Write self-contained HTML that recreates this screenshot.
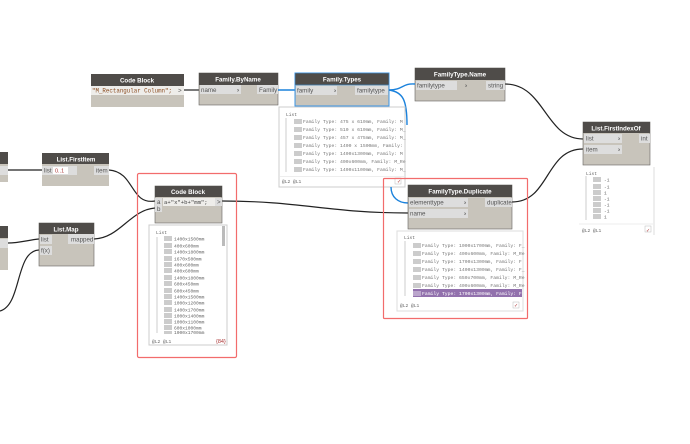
<!DOCTYPE html>
<html>
<head>
<meta charset="utf-8">
<style>
html,body{margin:0;padding:0;background:#fff;overflow:hidden}
svg{display:block;filter:blur(.3px)}
text{font-family:"Liberation Sans",sans-serif}
.h{fill:#fff;font-size:6.2px;font-weight:bold;text-anchor:middle}
.p{fill:#555;font-size:6.2px}
.m{font-family:"Liberation Mono",monospace;fill:#777;font-size:4.75px}
.s{font-family:"Liberation Mono",monospace;fill:#666;font-size:4.6px}
.w{fill:none;stroke:#222;stroke-width:1.2}
.b{fill:none;stroke:#1b82dc;stroke-width:1.4}
.i{fill:#ddd}
</style>
</head>
<body>
<svg xmlns="http://www.w3.org/2000/svg" width="690" height="444" viewBox="0 0 690 444">
<rect width="690" height="444" fill="#fff"/>

<!-- wires -->
<path class="w" d="M184 90H199"/>
<path class="w" d="M505 84C545 84 545 139 583 139"/>
<path class="w" d="M512 202C550 202 545 149 583 149"/>
<path class="w" d="M8 170H42"/>
<path class="w" d="M8 243C20 243 28 240 39 239"/>
<path class="w" d="M0 311C22 305 15 251 39 250"/>
<path class="w" d="M109 170C135 172 130 205 155 201"/>
<path class="w" d="M94 239C120 238 130 210 155 208"/>
<path class="w" d="M222 201C300 201 330 213 408 213"/>

<!-- CodeBlock string -->
<rect x="91" y="74" width="93" height="33" fill="#c8c4bb"/>
<rect x="91" y="74" width="93" height="12" fill="#4f4c49"/>
<rect x="91" y="86" width="93" height="9" fill="#eeedea"/>
<text class="h" x="137" y="82.5">Code Block</text>
<text x="92" y="92.5" font-size="6" fill="#8a4b20" textLength="80" lengthAdjust="spacingAndGlyphs" style="font-family:'Liberation Mono',monospace">"M_Rectangular Column";</text>
<text class="p" x="178" y="92.5">&gt;</text>

<!-- Family.ByName -->
<rect x="199" y="73" width="79" height="32" fill="#c8c4bb" stroke="#66635f" stroke-width=".6"/>
<rect x="199" y="73" width="79" height="12" fill="#4f4c49"/>
<rect x="200" y="85" width="41" height="9" class="i"/>
<rect x="257" y="85" width="21" height="9" class="i"/>
<text class="h" x="238" y="81.5">Family.ByName</text>
<text class="p" x="201" y="92">name</text>
<text class="p" x="239" y="92" text-anchor="end" font-weight="bold">›</text>
<text class="p" x="259" y="92">Family</text>

<path class="b" d="M278 90H295"/>

<!-- Family.Types -->
<rect x="295" y="73" width="94" height="33" fill="#c8c4bb" stroke="#3a94e4" stroke-width="1"/>
<rect x="295" y="73" width="94" height="12" fill="#4f4c49" stroke="#3a94e4" stroke-width=".6"/>
<rect x="296" y="86" width="41" height="9" class="i"/>
<rect x="355" y="86" width="33" height="9" class="i"/>
<text class="h" x="342" y="81.5">Family.Types</text>
<text class="p" x="297" y="92.5">family</text>
<text class="p" x="334" y="92.5" font-weight="bold">›</text>
<text class="p" x="357" y="92.5">familytype</text>

<!-- FamilyType.Name -->
<rect x="415" y="68" width="90" height="33" fill="#c8c4bb" stroke="#66635f" stroke-width=".6"/>
<rect x="415" y="68" width="90" height="12" fill="#4f4c49"/>
<rect x="416" y="81" width="41" height="9" class="i"/>
<rect x="486" y="81" width="19" height="9" class="i"/>
<text class="h" x="460" y="76.5">FamilyType.Name</text>
<text class="p" x="417" y="87.5">familytype</text>
<text class="p" x="465" y="87.5" font-weight="bold">›</text>
<text class="p" x="488" y="87.5">string</text>

<path class="b" d="M389 90C403 90 402 83 415 84"/>
<path class="b" d="M389 90C403 92 407 100 407 125"/>

<!-- Family.Types watch -->
<rect x="279" y="107" width="126" height="80" fill="#fff" stroke="#ccc" stroke-width="1"/>
<rect x="280" y="176" width="124" height="1" fill="#eee"/>
<path d="M286 118V172" stroke="#aaa" stroke-width=".6"/>
<text class="s" x="286" y="116">List</text>
<g>
<rect x="294" y="119" width="8" height="5" fill="#ccc"/><text class="m" x="303" y="123">Family Type: 475 x 610mm, Family: M</text>
<rect x="294" y="127" width="8" height="5" fill="#ccc"/><text class="m" x="303" y="131">Family Type: 510 x 610mm, Family: M_</text>
<rect x="294" y="135" width="8" height="5" fill="#ccc"/><text class="m" x="303" y="139">Family Type: 457 x 475mm, Family: M_</text>
<rect x="294" y="143" width="8" height="5" fill="#ccc"/><text class="m" x="303" y="147">Family Type: 1400 x 1500mm, Family: </text>
<rect x="294" y="151" width="8" height="5" fill="#ccc"/><text class="m" x="303" y="155">Family Type: 1400x1300mm, Family: M</text>
<rect x="294" y="159" width="8" height="5" fill="#ccc"/><text class="m" x="303" y="163">Family Type: 400x600mm, Family: M_Re</text>
<rect x="294" y="167" width="8" height="5" fill="#ccc"/><text class="m" x="303" y="171">Family Type: 1400x1100mm, Family: M_</text>
</g>
<text class="s" x="282" y="183">@L2 @L1</text>
<text x="397" y="183" font-size="5" fill="#a33">✓</text>
<rect x="395" y="178" width="6" height="6" fill="none" stroke="#bbb" stroke-width=".5"/>

<!-- blue wire lower part -->
<path class="b" d="M391 187C391 197 398 203 408 203"/>

<!-- red rects -->
<rect x="137.5" y="173.5" width="99" height="184" rx="1.5" fill="none" stroke="#f26c6c" stroke-width="1.2"/>
<rect x="383.5" y="178.5" width="144" height="140" rx="1" fill="none" stroke="#f26c6c" stroke-width="1.2"/>

<!-- Left partial nodes -->
<rect x="0" y="152" width="8" height="30" fill="#c8c4bb"/>
<rect x="0" y="152" width="8" height="12" fill="#4f4c49"/>
<rect x="0" y="166" width="8" height="9" class="i"/>
<rect x="0" y="226" width="8" height="44" fill="#c8c4bb"/>
<rect x="0" y="226" width="8" height="12" fill="#4f4c49"/>
<rect x="0" y="239" width="8" height="9" class="i"/>

<!-- List.FirstItem -->
<rect x="42" y="153" width="67" height="33" fill="#c8c4bb"/>
<rect x="42" y="153" width="67" height="11" fill="#4f4c49"/>
<rect x="42" y="166" width="35" height="9" class="i"/>
<rect x="94" y="166" width="15" height="9" class="i"/>
<rect x="53" y="167" width="15" height="7" fill="#fff"/>
<text class="h" x="76" y="161.5">List.FirstItem</text>
<text class="p" x="44" y="172.5">list</text>
<text x="55" y="172.5" font-size="5.5" fill="#a33">0..1</text>
<text class="p" x="96" y="172.5">item</text>

<!-- List.Map -->
<rect x="39" y="223" width="55" height="43" fill="#c8c4bb" stroke="#66635f" stroke-width=".6"/>
<rect x="39" y="223" width="55" height="11" fill="#4f4c49"/>
<rect x="40" y="235" width="12" height="9" class="i"/>
<rect x="40" y="246" width="12" height="9" class="i"/>
<rect x="68" y="234" width="26" height="10" class="i"/>
<text class="h" x="66" y="231.5">List.Map</text>
<text class="p" x="41" y="241.5">list</text>
<text class="p" x="41" y="252.5">f(x)</text>
<text class="p" x="71" y="241.5">mapped</text>

<!-- Code Block 2 -->
<rect x="155" y="186" width="67" height="37" fill="#c8c4bb" stroke="#66635f" stroke-width=".6"/>
<rect x="155" y="186" width="67" height="11" fill="#4f4c49"/>
<rect x="155" y="198" width="7" height="8" class="i"/>
<rect x="155" y="206" width="7" height="6" class="i"/>
<rect x="163" y="198" width="52" height="8" fill="#eeedea"/>
<rect x="215" y="198" width="7" height="8" class="i"/>
<text class="h" x="188" y="194">Code Block</text>
<text class="p" x="157" y="204" font-size="5.5">a</text>
<text class="p" x="157" y="211" font-size="5.5">b</text>
<text x="164" y="204" font-size="5.6" fill="#444" style="font-family:'Liberation Mono',monospace">a+"x"+b+"mm";</text>
<text class="p" x="217" y="204" font-size="5.5">&gt;</text>

<!-- CB watch -->
<rect x="149" y="225" width="78" height="120" fill="#fff" stroke="#ccc" stroke-width="1"/>
<rect x="222" y="226" width="3" height="20" fill="#bbb"/>
<path d="M157 237V333" stroke="#aaa" stroke-width=".6"/>
<text class="s" x="156" y="234">List</text>
<g>
<rect x="164" y="236" width="8" height="5" fill="#ccc"/><text class="s" x="174" y="240.5">1400x1500mm</text>
<rect x="164" y="243" width="8" height="5" fill="#ccc"/><text class="s" x="174" y="247.5">400x600mm</text>
<rect x="164" y="249" width="8" height="5" fill="#ccc"/><text class="s" x="174" y="253.5">1400x1800mm</text>
<rect x="164" y="256" width="8" height="5" fill="#ccc"/><text class="s" x="174" y="260.5">1670x500mm</text>
<rect x="164" y="262" width="8" height="5" fill="#ccc"/><text class="s" x="174" y="266.5">400x600mm</text>
<rect x="164" y="268" width="8" height="5" fill="#ccc"/><text class="s" x="174" y="272.5">400x600mm</text>
<rect x="164" y="275" width="8" height="5" fill="#ccc"/><text class="s" x="174" y="279.5">1400x1800mm</text>
<rect x="164" y="281" width="8" height="5" fill="#ccc"/><text class="s" x="174" y="285.5">600x450mm</text>
<rect x="164" y="288" width="8" height="5" fill="#ccc"/><text class="s" x="174" y="292.5">600x450mm</text>
<rect x="164" y="294" width="8" height="5" fill="#ccc"/><text class="s" x="174" y="298.5">1400x1500mm</text>
<rect x="164" y="300" width="8" height="5" fill="#ccc"/><text class="s" x="174" y="304.5">1000x1200mm</text>
<rect x="164" y="307" width="8" height="5" fill="#ccc"/><text class="s" x="174" y="311.5">1400x1700mm</text>
<rect x="164" y="313" width="8" height="5" fill="#ccc"/><text class="s" x="174" y="317.5">1000x1400mm</text>
<rect x="164" y="319" width="8" height="5" fill="#ccc"/><text class="s" x="174" y="323.5">1000x1100mm</text>
<rect x="164" y="325" width="8" height="5" fill="#ccc"/><text class="s" x="174" y="329.5">600x1000mm</text>
<rect x="164" y="331" width="8" height="3" fill="#ccc"/><text class="s" x="174" y="334">1000x1700mm</text>
</g>
<rect x="150" y="335" width="76" height="9" fill="#fff"/>
<text class="s" x="152" y="343">@L2 @L1</text>
<text x="216" y="343" font-size="5.5" fill="#a33">{84}</text>

<!-- FamilyType.Duplicate -->
<rect x="408" y="185" width="104" height="44" fill="#c8c4bb" stroke="#66635f" stroke-width=".6"/>
<rect x="408" y="185" width="104" height="12" fill="#4f4c49"/>
<rect x="409" y="198" width="59" height="9" class="i"/>
<rect x="409" y="209" width="59" height="9" class="i"/>
<rect x="485" y="198" width="27" height="9" class="i"/>
<text class="h" x="460" y="193.5">FamilyType.Duplicate</text>
<text class="p" x="410" y="204.5">elementtype</text>
<text class="p" x="410" y="215.5">name</text>
<text class="p" x="464" y="204.5" font-weight="bold">›</text>
<text class="p" x="464" y="215.5" font-weight="bold">›</text>
<text class="p" x="487" y="204.5">duplicate</text>

<!-- dup watch -->
<rect x="397" y="231" width="126" height="80" fill="#fff" stroke="#ddd" stroke-width="1"/>
<path d="M405 241V296" stroke="#aaa" stroke-width=".6"/>
<text class="s" x="404" y="239">List</text>
<rect x="413" y="289" width="109" height="8" fill="#9271ad"/>
<g>
<rect x="413" y="243" width="8" height="5" fill="#ccc"/><text class="m" x="422" y="247">Family Type: 1000x1700mm, Family: F_</text>
<rect x="413" y="251" width="8" height="5" fill="#ccc"/><text class="m" x="422" y="255">Family Type: 400x600mm, Family: M_Re</text>
<rect x="413" y="259" width="8" height="5" fill="#ccc"/><text class="m" x="422" y="263">Family Type: 1700x1300mm, Family: F</text>
<rect x="413" y="267" width="8" height="5" fill="#ccc"/><text class="m" x="422" y="271">Family Type: 1400x1300mm, Family: F_</text>
<rect x="413" y="275" width="8" height="5" fill="#ccc"/><text class="m" x="422" y="279">Family Type: 650x700mm, Family: M_Re</text>
<rect x="413" y="283" width="8" height="5" fill="#ccc"/><text class="m" x="422" y="287">Family Type: 400x600mm, Family: M_Re</text>
<rect x="413" y="291" width="8" height="5" fill="#bba6cc"/><text class="m" x="422" y="295" style="fill:#fff">Family Type: 1700x1300mm, Family: F</text>
</g>
<text class="s" x="400" y="307">@L2 @L1</text>
<text x="514" y="307" font-size="5" fill="#a33">✓</text>
<rect x="513" y="302" width="6" height="6" fill="none" stroke="#bbb" stroke-width=".5"/>

<!-- List.IndexOf -->
<rect x="583" y="122" width="67" height="43" fill="#c8c4bb" stroke="#66635f" stroke-width=".6"/>
<rect x="583" y="122" width="67" height="11" fill="#4f4c49"/>
<rect x="584" y="134" width="38" height="9" class="i"/>
<rect x="584" y="145" width="38" height="9" class="i"/>
<rect x="639" y="134" width="11" height="9" class="i"/>
<text class="h" x="616" y="130.5">List.FirstIndexOf</text>
<text class="p" x="586" y="140.5">list</text>
<text class="p" x="586" y="151.5">item</text>
<text class="p" x="618" y="140.5" font-weight="bold">›</text>
<text class="p" x="618" y="151.5" font-weight="bold">›</text>
<text class="p" x="641" y="140.5">int</text>

<!-- Index watch -->
<path d="M654 167V235" stroke="#ddd" stroke-width="1"/>
<path d="M579 224H654" stroke="#eee" stroke-width="1"/>
<path d="M586 176V220" stroke="#aaa" stroke-width=".6"/>
<text class="s" x="586" y="175">List</text>
<g>
<rect x="593" y="177" width="8" height="5" fill="#ccc"/><text class="s" x="604" y="181.5">-1</text>
<rect x="593" y="184" width="8" height="5" fill="#ccc"/><text class="s" x="604" y="188.5">-1</text>
<rect x="593" y="190" width="8" height="5" fill="#ccc"/><text class="s" x="604" y="194.5"> 1</text>
<rect x="593" y="196" width="8" height="5" fill="#ccc"/><text class="s" x="604" y="200.5">-1</text>
<rect x="593" y="202" width="8" height="5" fill="#ccc"/><text class="s" x="604" y="206.5">-1</text>
<rect x="593" y="208" width="8" height="5" fill="#ccc"/><text class="s" x="604" y="212.5">-1</text>
<rect x="593" y="214" width="8" height="5" fill="#ccc"/><text class="s" x="604" y="218.5"> 1</text>
</g>
<text class="s" x="582" y="232">@L2 @L1</text>
<text x="646" y="232" font-size="5" fill="#a33">✓</text>
<rect x="645" y="226" width="6" height="6" fill="none" stroke="#bbb" stroke-width=".5"/>
</svg>
</body>
</html>
